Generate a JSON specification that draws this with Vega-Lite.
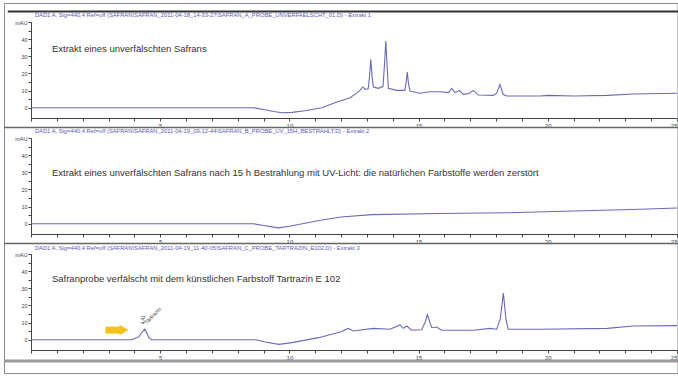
{
  "$schema": "https://vega.github.io/schema/vega-lite/v6.json",
  "autosize": {"type": "pad"},
  "padding": {"left": 2, "top": 2, "right": 0, "bottom": 3},
  "background": "white",
  "spacing": 20,
  "bounds": "flush",
  "datasets": {
    "p1": [
      {"t": 0, "v": 0}, {"t": 8.6, "v": 0}, {"t": 9.0, "v": -1.0}, {"t": 9.4, "v": -2.2}, {"t": 9.71, "v": -2.9},
      {"t": 10.1, "v": -2.7}, {"t": 10.6, "v": -1.8}, {"t": 11.26, "v": 0}, {"t": 11.76, "v": 2.9}, {"t": 11.96, "v": 3.9},
      {"t": 12.35, "v": 5.8}, {"t": 12.6, "v": 8.5}, {"t": 12.73, "v": 10.1}, {"t": 12.84, "v": 12.1}, {"t": 12.93, "v": 10.7},
      {"t": 13.05, "v": 11.0}, {"t": 13.1, "v": 18}, {"t": 13.15, "v": 28.2}, {"t": 13.2, "v": 18}, {"t": 13.25, "v": 12.1},
      {"t": 13.44, "v": 11.3}, {"t": 13.62, "v": 12.3}, {"t": 13.68, "v": 25}, {"t": 13.73, "v": 38.9}, {"t": 13.78, "v": 25},
      {"t": 13.83, "v": 11.3}, {"t": 14.15, "v": 10.1}, {"t": 14.47, "v": 10.1}, {"t": 14.52, "v": 15}, {"t": 14.56, "v": 20.8},
      {"t": 14.61, "v": 14}, {"t": 14.67, "v": 9.7}, {"t": 15.05, "v": 8.4}, {"t": 15.44, "v": 9.3}, {"t": 15.83, "v": 9.3},
      {"t": 16.15, "v": 8.8}, {"t": 16.28, "v": 11.3}, {"t": 16.41, "v": 8.8}, {"t": 16.58, "v": 10.1}, {"t": 16.73, "v": 7.8},
      {"t": 16.95, "v": 8.3}, {"t": 17.12, "v": 10.1}, {"t": 17.31, "v": 7.4}, {"t": 17.89, "v": 7.2}, {"t": 18.02, "v": 8.5},
      {"t": 18.15, "v": 13.6}, {"t": 18.27, "v": 7.8}, {"t": 18.41, "v": 6.8}, {"t": 19.7, "v": 6.8}, {"t": 20.0, "v": 7.2},
      {"t": 21.0, "v": 6.8}, {"t": 22.3, "v": 7.2}, {"t": 23.3, "v": 8.0}, {"t": 25, "v": 8.4}
    ],
    "p2": [
      {"t": 0, "v": 0}, {"t": 8.6, "v": 0}, {"t": 9.0, "v": -1.0}, {"t": 9.58, "v": -2.4}, {"t": 10.0, "v": -1.5},
      {"t": 10.5, "v": 0}, {"t": 11.2, "v": 2.0}, {"t": 12.0, "v": 3.9}, {"t": 13.2, "v": 5.3}, {"t": 15.8, "v": 6.0},
      {"t": 18.4, "v": 6.4}, {"t": 21.0, "v": 7.4}, {"t": 23.6, "v": 8.4}, {"t": 25, "v": 9.2}
    ],
    "p3": [
      {"t": 0, "v": 0}, {"t": 3.9, "v": 0}, {"t": 4.03, "v": 0.8}, {"t": 4.18, "v": 1.8}, {"t": 4.3, "v": 4.5},
      {"t": 4.4, "v": 6.1}, {"t": 4.48, "v": 4.0}, {"t": 4.56, "v": 1.2}, {"t": 4.66, "v": 0}, {"t": 8.7, "v": 0},
      {"t": 9.07, "v": -1.3}, {"t": 9.58, "v": -2.7}, {"t": 10.1, "v": -1.7}, {"t": 11.13, "v": 1.2}, {"t": 12.0, "v": 4.7},
      {"t": 12.28, "v": 6.6}, {"t": 12.47, "v": 5.1}, {"t": 13.25, "v": 6.6}, {"t": 13.89, "v": 6.1}, {"t": 14.28, "v": 8.6},
      {"t": 14.41, "v": 6.6}, {"t": 14.54, "v": 8.0}, {"t": 14.73, "v": 5.5}, {"t": 15.12, "v": 5.8}, {"t": 15.25, "v": 10},
      {"t": 15.34, "v": 14.6}, {"t": 15.44, "v": 10}, {"t": 15.51, "v": 7.0}, {"t": 15.7, "v": 7.4}, {"t": 15.89, "v": 5.5},
      {"t": 17.12, "v": 5.5}, {"t": 17.76, "v": 6.6}, {"t": 18.02, "v": 6.1}, {"t": 18.16, "v": 12}, {"t": 18.28, "v": 27.2},
      {"t": 18.38, "v": 12}, {"t": 18.47, "v": 6.1}, {"t": 19.7, "v": 6.1}, {"t": 22.3, "v": 6.6}, {"t": 23.3, "v": 8.0},
      {"t": 25, "v": 8.2}
    ]
  },
  "vconcat": [
    {
      "width": 646, "height": 96,
      "resolve": {"axis": {"x": "independent", "y": "independent"}},
      "layer": [
        {
          "data": {"name": "p1"},
          "mark": {"type": "line", "color": "#6a6abc", "strokeWidth": 1.1},
          "encoding": {
            "x": {"field": "t", "type": "quantitative", "scale": {"domain": [0, 25], "nice": false},
              "axis": {"values": [0,1,2,3,4,5,6,7,8,9,10,11,12,13,14,15,16,17,18,19,20,21,22,23,24,25], "labelExpr": "datum.value % 5 == 0 && datum.value > 0 ? datum.label : ''", "title": null, "grid": false, "tickSize": 3, "labelFontSize": 6, "labelPadding": 1, "labelOverlap": false, "labelFlush": true}},
            "y": {"field": "v", "type": "quantitative", "scale": {"domain": [-6, 50], "nice": false, "zero": false},
              "axis": {"values": [0,5,10,15,20,25,30,35,40,45,50], "labelExpr": "datum.value == 50 ? 'mAU' : (datum.value % 10 == 0 ? datum.label : '')", "title": null, "grid": false, "tickSize": 3, "labelFontSize": 5.5, "labelPadding": 1, "labelOverlap": false, "labelFlush": false}}
          }
        },
        {
          "data": {"values": [{}]},
          "mark": {"type": "text", "text": "DAD1 A, Sig=440,4 Ref=off (SAFRAN\\SAFRAN_2011-04-18_14-33-27\\SAFRAN_A_PROBE_UNVERFAELSCHT_01.D) - Extrakt 1", "align": "left", "baseline": "middle", "fontSize": 5.8, "color": "#5a5ab4"},
          "encoding": {"x": {"datum": 0.15, "axis": null}, "y": {"datum": 54.1, "axis": null}}
        },
        {
          "data": {"values": [{}]},
          "mark": {"type": "text", "text": "Extrakt eines unverfälschten Safrans", "align": "left", "baseline": "middle", "fontSize": 9.5, "color": "#333333"},
          "encoding": {"x": {"datum": 0.81, "axis": null}, "y": {"datum": 34.3, "axis": null}}
        },
        {
          "data": {"values": [{}]},
          "mark": {"type": "rule", "color": "#8a8a8a", "strokeWidth": 1},
          "encoding": {"x": {"datum": -1.026, "axis": null}, "x2": {"datum": 25.04}, "y": {"datum": 60.8, "axis": null}}
        },
        {
          "data": {"values": [{}]},
          "mark": {"type": "rule", "color": "#8a8a8a", "strokeWidth": 1},
          "encoding": {"x": {"datum": -1.026, "axis": null}, "x2": {"datum": 25.04}, "y": {"datum": -155.1, "axis": null}}
        },
        {
          "data": {"values": [{}]},
          "mark": {"type": "rule", "color": "#8a8a8a", "strokeWidth": 1},
          "encoding": {"x": {"datum": -1.026, "axis": null}, "y": {"datum": 60.8, "axis": null}, "y2": {"datum": -155.1}}
        },
        {
          "data": {"values": [{}]},
          "mark": {"type": "rule", "color": "#8a8a8a", "strokeWidth": 1},
          "encoding": {"x": {"datum": 25.04, "axis": null}, "y": {"datum": 60.8, "axis": null}, "y2": {"datum": -155.1}}
        },
        {
          "data": {"values": [{}]},
          "mark": {"type": "rule", "color": "#333333", "strokeWidth": 2},
          "encoding": {"x": {"datum": -0.9, "axis": null}, "x2": {"datum": 25.04}, "y": {"datum": 56.1, "axis": null}}
        },
        {
          "data": {"values": [{}]},
          "mark": {"type": "rule", "color": "#666666", "strokeWidth": 1.5},
          "encoding": {"x": {"datum": -1.026, "axis": null}, "x2": {"datum": 25.04}, "y": {"datum": -11.6, "axis": null}}
        }
      ]
    },
    {
      "width": 646, "height": 96,
      "resolve": {"axis": {"x": "independent", "y": "independent"}},
      "layer": [
        {
          "data": {"name": "p2"},
          "mark": {"type": "line", "color": "#6a6abc", "strokeWidth": 1.1},
          "encoding": {
            "x": {"field": "t", "type": "quantitative", "scale": {"domain": [0, 25], "nice": false},
              "axis": {"values": [0,1,2,3,4,5,6,7,8,9,10,11,12,13,14,15,16,17,18,19,20,21,22,23,24,25], "labelExpr": "datum.value % 5 == 0 && datum.value > 0 ? datum.label : ''", "title": null, "grid": false, "tickSize": 3, "labelFontSize": 6, "labelPadding": 1, "labelOverlap": false, "labelFlush": true}},
            "y": {"field": "v", "type": "quantitative", "scale": {"domain": [-6, 50], "nice": false, "zero": false},
              "axis": {"values": [0,5,10,15,20,25,30,35,40,45,50], "labelExpr": "datum.value == 50 ? 'mAU' : (datum.value % 10 == 0 ? datum.label : '')", "title": null, "grid": false, "tickSize": 3, "labelFontSize": 5.5, "labelPadding": 1, "labelOverlap": false, "labelFlush": false}}
          }
        },
        {
          "data": {"values": [{}]},
          "mark": {"type": "text", "text": "DAD1 A, Sig=440,4 Ref=off (SAFRAN\\SAFRAN_2011-04-19_09-12-44\\SAFRAN_B_PROBE_UV_15H_BESTRAHLT.D) - Extrakt 2", "align": "left", "baseline": "middle", "fontSize": 5.8, "color": "#5a5ab4"},
          "encoding": {"x": {"datum": 0.15, "axis": null}, "y": {"datum": 54.1, "axis": null}}
        },
        {
          "data": {"values": [{}]},
          "mark": {"type": "text", "text": "Extrakt eines unverfälschten Safrans nach 15 h Bestrahlung mit UV-Licht: die natürlichen Farbstoffe werden zerstört", "align": "left", "baseline": "middle", "fontSize": 9.5, "color": "#333333"},
          "encoding": {"x": {"datum": 0.81, "axis": null}, "y": {"datum": 29.4, "axis": null}}
        },
        {
          "data": {"values": [{}]},
          "mark": {"type": "rule", "color": "#666666", "strokeWidth": 1.5},
          "encoding": {"x": {"datum": -1.026, "axis": null}, "x2": {"datum": 25.04}, "y": {"datum": -11.6, "axis": null}}
        }
      ]
    },
    {
      "width": 646, "height": 96,
      "resolve": {"axis": {"x": "independent", "y": "independent"}},
      "layer": [
        {
          "data": {"name": "p3"},
          "mark": {"type": "line", "color": "#6a6abc", "strokeWidth": 1.1},
          "encoding": {
            "x": {"field": "t", "type": "quantitative", "scale": {"domain": [0, 25], "nice": false},
              "axis": {"values": [0,1,2,3,4,5,6,7,8,9,10,11,12,13,14,15,16,17,18,19,20,21,22,23,24,25], "labelExpr": "datum.value % 5 == 0 && datum.value > 0 ? datum.label : ''", "title": null, "grid": false, "tickSize": 3, "labelFontSize": 6, "labelPadding": 1, "labelOverlap": false, "labelFlush": true}},
            "y": {"field": "v", "type": "quantitative", "scale": {"domain": [-6, 50], "nice": false, "zero": false},
              "axis": {"values": [0,5,10,15,20,25,30,35,40,45,50], "labelExpr": "datum.value == 50 ? 'mAU' : (datum.value % 10 == 0 ? datum.label : '')", "title": null, "grid": false, "tickSize": 3, "labelFontSize": 5.5, "labelPadding": 1, "labelOverlap": false, "labelFlush": false}}
          }
        },
        {
          "data": {"values": [{}]},
          "mark": {"type": "text", "text": "DAD1 A, Sig=440,4 Ref=off (SAFRAN\\SAFRAN_2011-04-19_11-40-05\\SAFRAN_C_PROBE_TARTRAZIN_E102.D) - Extrakt 3", "align": "left", "baseline": "middle", "fontSize": 5.8, "color": "#5a5ab4"},
          "encoding": {"x": {"datum": 0.15, "axis": null}, "y": {"datum": 53.6, "axis": null}}
        },
        {
          "data": {"values": [{}]},
          "mark": {"type": "text", "text": "Safranprobe verfälscht mit dem künstlichen Farbstoff Tartrazin E 102", "align": "left", "baseline": "middle", "fontSize": 9.5, "color": "#333333"},
          "encoding": {"x": {"datum": 0.81, "axis": null}, "y": {"datum": 35.7, "axis": null}}
        },
        {
          "data": {"values": [{}]},
          "mark": {"type": "rule", "color": "#f6c11b", "strokeWidth": 7, "strokeCap": "butt"},
          "encoding": {"x": {"datum": 2.88, "axis": null}, "x2": {"datum": 3.45}, "y": {"datum": 5.6, "axis": null}}
        },
        {
          "data": {"values": [{}]},
          "mark": {"type": "point", "shape": "triangle-right", "filled": true, "size": 110, "color": "#f6c11b", "opacity": 1},
          "encoding": {"x": {"datum": 3.6, "axis": null}, "y": {"datum": 5.6, "axis": null}}
        },
        {
          "data": {"values": [{}]},
          "mark": {"type": "text", "text": "Tartrazin", "angle": -45, "align": "left", "baseline": "bottom", "fontSize": 5.5, "color": "#444444"},
          "encoding": {"x": {"datum": 4.5, "axis": null}, "y": {"datum": 8.5, "axis": null}}
        },
        {
          "data": {"values": [{}]},
          "mark": {"type": "text", "text": "4.41", "angle": -90, "align": "left", "baseline": "middle", "fontSize": 4.5, "color": "#444444"},
          "encoding": {"x": {"datum": 4.38, "axis": null}, "y": {"datum": 9, "axis": null}}
        },
        {
          "data": {"values": [{}]},
          "mark": {"type": "rule", "color": "#9a9a9a", "strokeWidth": 3},
          "encoding": {"x": {"datum": -1.026, "axis": null}, "x2": {"datum": 25.04}, "y": {"datum": -12.4, "axis": null}}
        }
      ]
    }
  ],
  "config": {
    "view": {"stroke": null},
    "font": "Liberation Sans",
    "axis": {"domainColor": "#444444", "tickColor": "#444444", "labelColor": "#444444", "labelFont": "Liberation Sans"}
  }
}
